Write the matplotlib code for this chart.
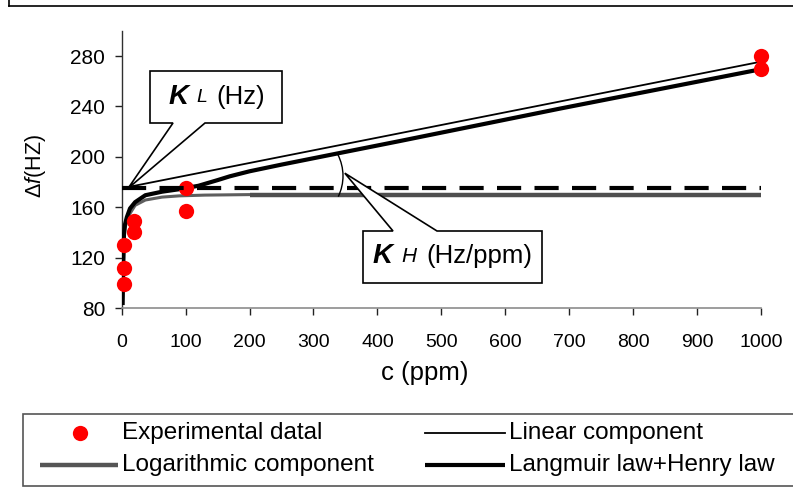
import matplotlib
matplotlib.use("Agg")
import matplotlib.pyplot as plt
import matplotlib.font_manager as fm
from matplotlib.lines import Line2D
from matplotlib.patches import Polygon, Rectangle, Arc
from matplotlib.transforms import IdentityTransform

plt.rcParams['font.family'] = ['Liberation Sans', 'DejaVu Sans']
plt.rcParams['mathtext.fontset'] = 'custom'
plt.rcParams['mathtext.it'] = 'Liberation Sans:italic'
plt.rcParams['mathtext.rm'] = 'Liberation Sans'

names = {f.name for f in fm.fontManager.ttflist}
if 'Liberation Sans Narrow' in names:
    XFONT, XSIZE = 'Liberation Sans Narrow', 15.5
else:
    XFONT, XSIZE = 'Liberation Sans', 14

# ---- data ----
exp_c = [4, 4, 4, 20, 20, 100, 100, 1000, 1000]
exp_df = [99, 112, 130, 140, 149, 175, 157, 280, 270]

lin_c = [0, 1000]
lin_df = [175, 275.5]

log_c = [2, 3.5, 5, 8, 13, 21, 37, 63, 90, 130, 200, 1000]
log_df = [100, 135, 143, 149, 155, 161.5, 165.7, 168, 169, 169.6, 170, 170]

lh_c = [1.5, 2.5, 3.5, 5, 8, 13, 21, 37, 63, 89, 120, 150, 169, 200, 250, 326,
        435, 686, 1000]
lh_df = [84, 115, 138, 146, 152, 159, 164, 169.5, 172.3, 174.2, 177, 181.5,
         184.5, 188.5, 193.8, 201.5, 212.5, 238.3, 269.5]

kl_c = [0, 1000]
kl_df = [175, 175]

xticks = [0, 100, 200, 300, 400, 500, 600, 700, 800, 900, 1000]
yticks = [80, 120, 160, 200, 240, 280]

legend_labels = ["Experimental datal", "Linear component",
                 "Logarithmic component", "Langmuir law+Henry law"]

W, H = 793, 488
fig = plt.figure(figsize=(W / 100, H / 100), dpi=100)
fig.patch.set_facecolor('white')
ID = IdentityTransform()


def px(x, y):
    return (x, H - y)


ax = fig.add_axes([121.7 / W, (H - 308) / H, 639.3 / W, 277.2 / H])
ax.set_xlim(0, 1000)
ax.set_ylim(80, 300)
ax.set_xticks(xticks)
ax.set_yticks(yticks)
ax.set_xticklabels([str(t) for t in xticks], fontfamily=XFONT)
ax.set_yticklabels([str(t) for t in yticks])
for s in ['top', 'right']:
    ax.spines[s].set_visible(False)
ax.spines['left'].set_color('#303030')
ax.spines['bottom'].set_color('#8c8c8c')
ax.spines['left'].set_linewidth(1.0)
ax.spines['bottom'].set_linewidth(1.2)
ax.tick_params(axis='x', direction='out', length=5, width=1, color='#222222',
               labelsize=XSIZE, pad=13.5)
ax.tick_params(axis='y', direction='out', length=5, width=1, color='#222222',
               labelsize=15, pad=7)
ax.set_facecolor('none')

# log component (gray)
ax.plot(log_c, log_df, color='#5e5e5e', lw=2.2, zorder=2, solid_capstyle='butt')
i200 = log_c.index(200)
ax.plot(log_c[i200:], log_df[i200:], color='#4f4f4f', lw=3.2, zorder=2,
        solid_capstyle='butt')
# linear component
ax.plot(lin_c, lin_df, color='black', lw=1.3, zorder=3)
# Langmuir + Henry
ax.plot(lh_c, lh_df, color='black', lw=3.0, zorder=3)
# experimental points
ax.plot(exp_c, exp_df, 'o', color='#ff0000', ms=11, mec='none', zorder=4,
        clip_on=False)
# KL dashed level
ax.plot(kl_c, kl_df, color='black', lw=3.0, dashes=(5.8, 3.2), zorder=5,
        solid_capstyle='butt', dash_capstyle='butt')

fig.text(425 / W, 1 - 373 / H, "c (ppm)", ha='center', va='center', fontsize=18.5)
fig.text(35 / W, 1 - 166 / H, r"$\it{Δf}$(HZ)", ha='center', va='center',
         rotation=90, fontsize=15.5)

fig.canvas.draw()

# ---- callout KL ----
tip = ax.transData.transform((10, 175))
box_l, box_r, box_t, box_b = 150, 282, 71, 123
pts = [px(box_l, box_t), px(box_r, box_t), px(box_r, box_b), px(205, box_b),
       tuple(tip), px(173, box_b), px(box_l, box_b)]
fig.add_artist(Polygon(pts, closed=True, facecolor='white', edgecolor='black',
                       lw=1.2, transform=ID, zorder=10))
fig.text(*px(169, 97), "K", fontsize=20, fontweight='bold', style='italic',
         ha='left', va='center', transform=ID, zorder=11)
fig.text(*px(196, 98), "L", fontsize=14, style='italic',
         ha='left', va='center', transform=ID, zorder=11)
fig.text(*px(216, 97), "(Hz)", fontsize=18.5,
         ha='left', va='center', transform=ID, zorder=11)

# ---- callout KH ----
tip2 = ax.transData.transform((349, 187))
box_l, box_r, box_t, box_b = 363, 542, 231, 283
pts = [px(box_l, box_t), px(393, box_t), tuple(tip2), px(437, box_t),
       px(box_r, box_t), px(box_r, box_b), px(box_l, box_b)]
fig.add_artist(Polygon(pts, closed=True, facecolor='white', edgecolor='black',
                       lw=1.2, transform=ID, zorder=10))
fig.text(*px(373, 256), "K", fontsize=20, fontweight='bold', style='italic',
         ha='left', va='center', transform=ID, zorder=11)
fig.text(*px(401, 257), "H", fontsize=15, style='italic',
         ha='left', va='center', transform=ID, zorder=11)
fig.text(*px(426, 256), "(Hz/ppm)", fontsize=18.5,
         ha='left', va='center', transform=ID, zorder=11)

# angle arc
fig.add_artist(Arc(px(296, 176), 94, 94, theta1=-26, theta2=27, color='black',
                   lw=1.0, transform=ID, zorder=6))

# ---- outer frame ----
fig.add_artist(Line2D([8.5, 8.5], [H, H - 5.5], color='black', lw=1.2,
                      transform=ID))
fig.add_artist(Line2D([8.5, W], [H - 5.5, H - 5.5], color='black', lw=1.2,
                      transform=ID))

# ---- legend ----
fig.add_artist(Rectangle(px(22.7, 486), 800, 72, facecolor='white',
                         edgecolor='#555555', lw=1.2, transform=ID, zorder=8))
r1, r2 = 433, 465
fig.add_artist(Line2D([80], [H - r1], marker='o', color='#ff0000', ms=11,
                      mec='none', transform=ID, zorder=9))
fig.add_artist(Line2D([425, 505], [H - r1, H - r1], color='black', lw=1.3,
                      transform=ID, zorder=9))
fig.add_artist(Line2D([40, 118], [H - r2, H - r2], color='#555555', lw=3.2,
                      transform=ID, zorder=9, solid_capstyle='butt'))
fig.add_artist(Line2D([425, 505], [H - r2, H - r2], color='black', lw=3.0,
                      transform=ID, zorder=9, solid_capstyle='butt'))
for (x, y), lab in zip([(122, r1), (509, r1), (122, r2), (509, r2)], legend_labels):
    fig.text(*px(x, y), lab, fontsize=17.5, ha='left', va='center',
             transform=ID, zorder=9)

fig.savefig("out.png", dpi=100)
